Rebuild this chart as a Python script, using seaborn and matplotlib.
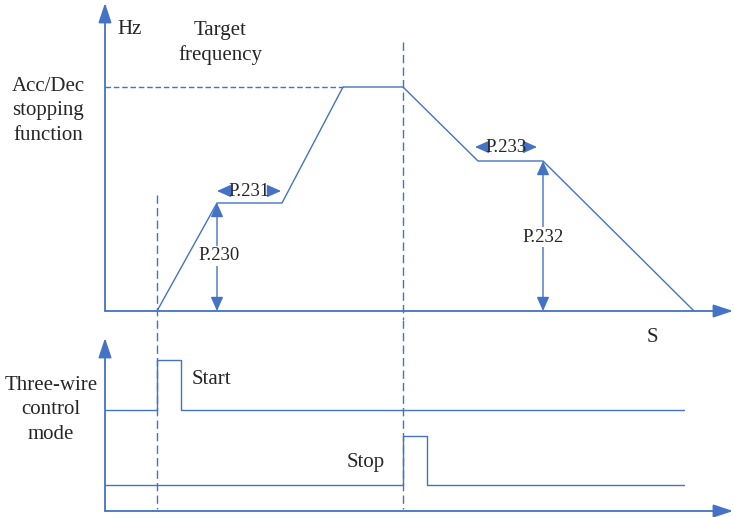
import matplotlib
matplotlib.use("Agg")
import matplotlib.pyplot as plt
import pandas as pd
import seaborn as sns

# Frequency profile (schematic time units vs. output frequency)
profile_time = [52, 112, 177, 238, 298, 373, 438, 589]
profile_freq = [0, 108, 108, 224, 224, 150, 150, 0]

# Three-wire control signals (time, level)
start_time = [0, 52, 52, 76, 76, 579]
start_level = [101, 101, 151, 151, 101, 101]
stop_time = [0, 298, 298, 322, 322, 579]
stop_level = [26, 26, 75, 75, 26, 26]

# Parameter annotations
p230_time, p230_label = 112, "P.230"
p231_span, p231_label = (112, 176), "P.231"
p232_time, p232_label = 438, "P.232"
p233_span, p233_label = (370, 432), "P.233"
target_freq = 224
start_cmd_time = 52
stop_cmd_time = 298

BLUE = "#4472C4"
LW = 1.0

sns.set_style("white")
plt.rcParams["font.family"] = ["Liberation Serif", "DejaVu Serif"]
FS = 15
FS_P = 13.5
LS = 1.4

fig = plt.figure(figsize=(7.35, 5.17), dpi=100)
W, H = 735, 517
ax_top = fig.add_axes([0, (H - 320) / H, 1, 320 / H])
ax_bot = fig.add_axes([0, 0, 1, 197 / H])
ax_top.set_xlim(-105, 630)
ax_top.set_ylim(-9, 311)
ax_bot.set_xlim(-105, 630)
ax_bot.set_ylim(-6, 191)
for ax in (ax_top, ax_bot):
    ax.set_axis_off()


def axis_arrow(ax, start, end):
    ax.annotate("", xy=end, xytext=start,
                arrowprops=dict(arrowstyle="-|>,head_length=1.2,head_width=0.4",
                                mutation_scale=10, color=BLUE, lw=1.3,
                                shrinkA=0, shrinkB=0))


def dim_arrow(ax, start, end, style="<|-|>"):
    ax.annotate("", xy=end, xytext=start,
                arrowprops=dict(arrowstyle=f"{style},head_length=0.85,head_width=0.38",
                                mutation_scale=10, color=BLUE, lw=1.0,
                                shrinkA=0, shrinkB=0))


def v_label(ax, x, y, s):
    ax.text(x, y, s, ha="center", va="center", fontsize=FS_P,
            bbox=dict(facecolor="white", edgecolor="none", pad=1.0))


def h_dimension(ax, span, y, s):
    mid = sum(span) / 2
    half = 20
    dim_arrow(ax, (mid - half, y), (span[0], y), style="-|>")
    dim_arrow(ax, (mid + half, y), (span[1], y), style="-|>")
    ax.text(mid, y, s, ha="center", va="center", fontsize=FS_P)


# ---- upper panel: frequency vs time ----
axis_arrow(ax_top, (0, 0), (0, 308))
axis_arrow(ax_top, (0, 0), (628, 0))

prof = pd.DataFrame({"t": profile_time, "f": profile_freq})
sns.lineplot(data=prof, x="t", y="f", sort=False, estimator=None,
             color=BLUE, lw=LW, ax=ax_top)

ax_top.plot([0, profile_time[3]], [target_freq, target_freq], color=BLUE,
            lw=LW, ls=(0, (4, 2)))
ax_top.plot([start_cmd_time] * 2, [116, -9], color=BLUE, lw=LW, ls=(0, (6, 3)))
ax_top.plot([stop_cmd_time] * 2, [269, -9], color=BLUE, lw=LW, ls=(0, (6, 3)))

dim_arrow(ax_top, (p230_time, 0), (p230_time, profile_freq[1]))
v_label(ax_top, p230_time + 2, 55, p230_label)
h_dimension(ax_top, p231_span, 120, p231_label)
dim_arrow(ax_top, (p232_time, 0), (p232_time, profile_freq[5]))
v_label(ax_top, p232_time, 74, p232_label)
h_dimension(ax_top, p233_span, 164, p233_label)

ax_top.text(25, 281, "Hz", ha="center", va="center", fontsize=FS)
ax_top.text(115, 268, "Target\nfrequency", ha="center", va="center",
            fontsize=FS, linespacing=LS)
ax_top.text(-57, 200, "Acc/Dec\nstopping\nfunction", ha="center", va="center",
            fontsize=FS, linespacing=LS)

# ---- lower panel: three-wire control signals ----
axis_arrow(ax_bot, (0, 0), (0, 173))
axis_arrow(ax_bot, (0, 0), (628, 0))

sig = pd.DataFrame({
    "t": start_time + stop_time,
    "v": start_level + stop_level,
    "sig": ["start"] * len(start_time) + ["stop"] * len(stop_time),
})
sns.lineplot(data=sig, x="t", y="v", units="sig", sort=False, estimator=None,
             color=BLUE, lw=LW, ax=ax_bot)

ax_bot.plot([start_cmd_time] * 2, [191, 2], color=BLUE, lw=LW, ls=(0, (6, 3)))
ax_bot.plot([stop_cmd_time] * 2, [191, 2], color=BLUE, lw=LW, ls=(0, (6, 3)))

ax_bot.text(547, 174, "S", ha="center", va="center", fontsize=FS)
ax_bot.text(106, 132, "Start", ha="center", va="center", fontsize=FS)
ax_bot.text(261, 49, "Stop", ha="center", va="center", fontsize=FS)
ax_bot.text(-54, 101, "Three-wire\ncontrol\nmode", ha="center", va="center",
            fontsize=FS, linespacing=LS)

fig.savefig("out.png", dpi=100, facecolor="white")
